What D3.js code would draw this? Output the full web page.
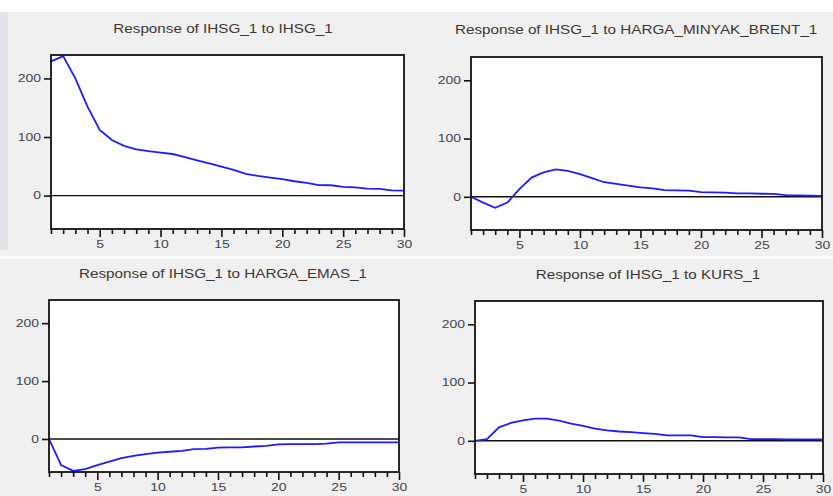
<!DOCTYPE html>
<html>
<head>
<meta charset="utf-8">
<script src="https://cdn.jsdelivr.net/npm/d3@7"></script>
<style>
  body { margin: 0; background: #fff; }
  svg { display: block; }
</style>
</head>
<body>
<div id="wrapper"></div>
<script>
// periods 1..30
const periods = [1, 2, 3, 4, 5, 6, 7, 8, 9, 10, 11, 12, 13, 14, 15,
  16, 17, 18, 19, 20, 21, 22, 23, 24, 25, 26, 27, 28, 29, 30]

// responses
const ihsgToIhsg = [229, 238, 200, 152, 112, 95, 85, 79, 76, 73.5, 71, 65.5, 60, 55, 49.6,
  44, 37, 33.6, 30.8, 28, 24.5, 21.7, 18, 17.7, 14.8, 14.2, 12, 11.4, 9, 8.5]
const ihsgToBrent = [0, -10, -19, -10, 13, 33, 42, 47, 44.5, 39, 32, 25, 22, 19, 16,
  14.5, 11.6, 11, 10.5, 8, 7.5, 7, 5.8, 5.8, 5.2, 5, 3, 2.3, 2, 1.5]
const ihsgToEmas = [0, -45, -55, -52, -45, -39, -33, -29, -26, -23.5, -22, -20.5, -17.5, -17, -15,
  -14.6, -14.6, -13, -12, -9.4, -8.8, -8.8, -8.8, -8, -5.8, -5.8, -5.8, -5.8, -5.8, -5.8]
const ihsgToKurs = [0, 3, 23, 30.6, 35, 38, 38, 34.7, 29.5, 25.5, 21, 18, 16, 15, 13.3,
  12, 9.2, 9.2, 9.2, 6.4, 6.4, 5.8, 5.8, 2.9, 2.9, 2.9, 2.6, 2.6, 2.3, 2.3]

const titles = [
  "Response of IHSG_1 to IHSG_1",
  "Response of IHSG_1 to HARGA_MINYAK_BRENT_1",
  "Response of IHSG_1 to HARGA_EMAS_1",
  "Response of IHSG_1 to KURS_1",
]
const yTickValues = [0, 100, 200]
const xTickLabels = [5, 10, 15, 20, 25, 30]
const yDomain = [-57, 240]

// layout of the four panels
const panels = [
  { title: titles[0], values: ihsgToIhsg, box: { left: 51, top: 55, right: 404, bottom: 229 }, tx: 223, ty: 33, anchor: "middle" },
  { title: titles[1], values: ihsgToBrent, box: { left: 471, top: 57, right: 822, bottom: 230 }, tx: 455, ty: 34, anchor: "start" },
  { title: titles[2], values: ihsgToEmas, box: { left: 49, top: 300, right: 399, bottom: 472 }, tx: 223, ty: 278, anchor: "middle" },
  { title: titles[3], values: ihsgToKurs, box: { left: 475, top: 301, right: 823, bottom: 474 }, tx: 648, ty: 279, anchor: "middle" },
]

const width = 833
const height = 496
const textScale = 1.4
const font = "Arial, 'Liberation Sans', sans-serif"

const svg = d3
  .select("#wrapper")
  .append("svg")
  .attr("width", width)
  .attr("height", height)
  .style("font-family", font)

// backdrop
svg.append("rect").attr("width", width).attr("height", height).attr("fill", "#f0f0f0")
svg.append("rect").attr("width", width).attr("height", 12).attr("fill", "#ffffff")
svg.append("rect").attr("x", 0).attr("y", 12).attr("width", 8).attr("height", 238).attr("fill", "#e2e4ea")
svg.append("rect").attr("x", 0).attr("y", 256).attr("width", width).attr("height", 3).attr("fill", "#fafafa")

panels.forEach((p) => {
  const b = p.box
  const g = svg.append("g")

  const xScale = d3.scaleLinear().domain([1, 30]).range([b.left, b.right])
  const yScale = d3.scaleLinear().domain(yDomain).range([b.bottom, b.top])

  // title
  g.append("text")
    .attr("transform", `translate(${p.tx},${p.ty}) scale(1.22,1)`)
    .attr("text-anchor", p.anchor)
    .attr("font-size", 12.5)
    .attr("fill", "#3e3630")
    .text(p.title)

  // plot area
  g.append("rect")
    .attr("x", b.left)
    .attr("y", b.top)
    .attr("width", b.right - b.left)
    .attr("height", b.bottom - b.top)
    .attr("fill", "#ffffff")

  // zero line
  g.append("line")
    .attr("x1", b.left)
    .attr("x2", b.right)
    .attr("y1", yScale(0))
    .attr("y2", yScale(0))
    .attr("stroke", "#111")
    .attr("stroke-width", 1.4)

  // response line
  const lineGenerator = d3
    .line()
    .x((d, i) => xScale(periods[i]))
    .y((d) => yScale(d))

  g.append("path")
    .attr("d", lineGenerator(p.values))
    .attr("fill", "none")
    .attr("stroke", "#1c1cff")
    .attr("stroke-width", 1.8)

  // frame
  g.append("rect")
    .attr("x", b.left)
    .attr("y", b.top)
    .attr("width", b.right - b.left)
    .attr("height", b.bottom - b.top)
    .attr("fill", "none")
    .attr("stroke", "#111")
    .attr("stroke-width", 1.8)

  // y axis
  const yAxis = g
    .append("g")
    .attr("transform", `translate(${b.left},0)`)
    .call(d3.axisLeft(yScale).tickValues(yTickValues).tickSize(7))
  yAxis.select(".domain").remove()
  yAxis.selectAll(".tick line").attr("stroke", "#111").attr("stroke-width", 1.6)
  yAxis.selectAll(".tick text")
    .attr("font-size", 10)
    .attr("font-family", font)
    .attr("fill", "#44444c")
    .attr("x", -10 / textScale)
    .attr("transform", `scale(${textScale},1)`)

  // x axis
  const xAxis = g
    .append("g")
    .attr("transform", `translate(0,${b.bottom})`)
    .call(
      d3.axisBottom(xScale)
        .tickValues(periods)
        .tickSize(5)
        .tickFormat((d) => (xTickLabels.includes(d) ? d : ""))
    )
  xAxis.select(".domain").remove()
  xAxis.selectAll(".tick line")
    .attr("stroke", "#111")
    .attr("stroke-width", 1.6)
    .attr("y2", (d) => (d % 5 === 0 ? 8 : 5))
  xAxis.selectAll(".tick text")
    .attr("font-size", 10)
    .attr("font-family", font)
    .attr("fill", "#44444c")
    .attr("transform", `scale(${textScale},1)`)
    .attr("y", 12)
})
</script>
</body>
</html>
